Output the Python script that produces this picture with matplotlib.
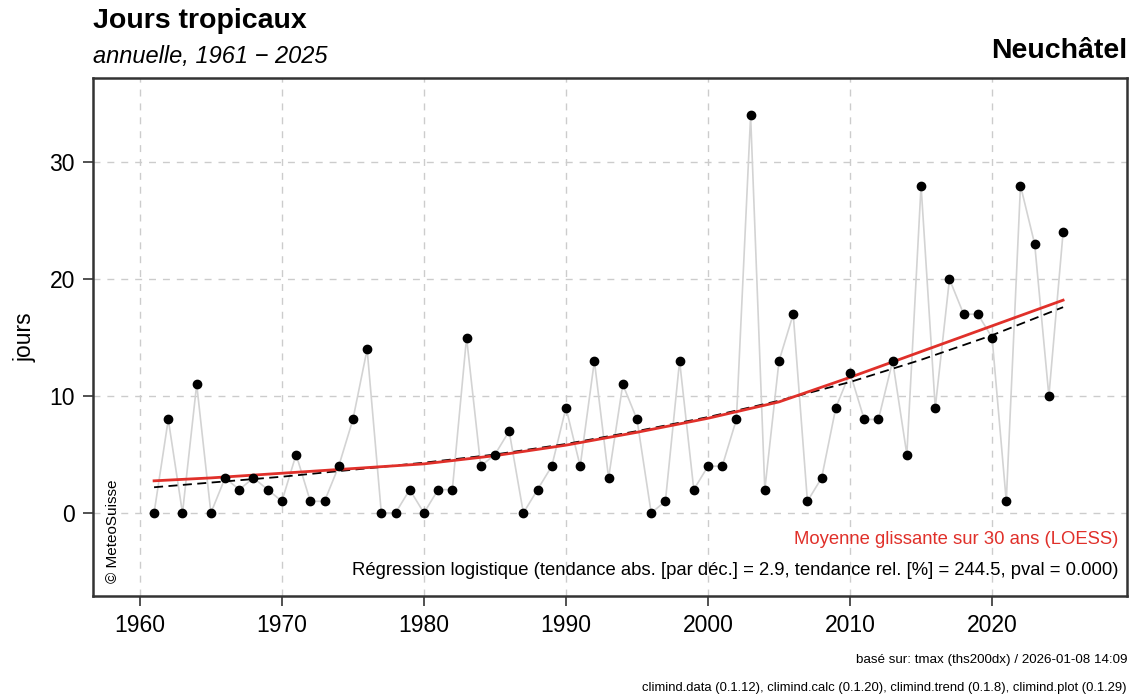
import matplotlib
matplotlib.use("Agg")
import matplotlib.pyplot as plt

plt.rcParams['font.family'] = ['Liberation Sans', 'DejaVu Sans']

# annual number of tropical days, Neuchâtel
years = list(range(1961, 2026))
days = [0, 8, 0, 11, 0, 3, 2, 3, 2, 1,
        5, 1, 1, 4, 8, 14, 0, 0, 2, 0,
        2, 2, 15, 4, 5, 7, 0, 2, 4, 9,
        4, 13, 3, 11, 8, 0, 1, 13, 2, 4,
        4, 8, 34, 2, 13, 17, 1, 3, 9, 12,
        8, 8, 13, 5, 28, 9, 20, 17, 17, 15,
        1, 28, 23, 10, 24]

# smooth curves
curve_years = [1961, 1965, 1970, 1975, 1980, 1985, 1990, 1995, 2000, 2005, 2010, 2015, 2020, 2025]
loess = [2.75, 3.0, 3.4, 3.8, 4.2, 4.9, 5.8, 6.9, 8.1, 9.5, 11.6, 13.8, 16.0, 18.2]
logreg = [2.2, 2.6, 3.1, 3.7, 4.3, 5.0, 5.9, 7.0, 8.2, 9.6, 11.2, 13.1, 15.2, 17.6]

x_ticks = [1960, 1970, 1980, 1990, 2000, 2010, 2020]
y_ticks = [0, 10, 20, 30]

RED = '#e0302a'

fig = plt.figure(figsize=(11.3, 6.97), dpi=100)
ax = fig.add_axes([93 / 1130, 1 - 596 / 697, (1127 - 93) / 1130, (596 - 78) / 697])

ax.set_xlim(1956.7, 2029.5)
ax.set_ylim(-7.1, 37.2)
ax.set_xticks(x_ticks)
ax.set_yticks(y_ticks)
ax.grid(True, linestyle=(0, (5, 5)), color='#cccccc', linewidth=1)
ax.set_axisbelow(True)

ax.plot(years, days, color='#d3d3d3', linewidth=1.2, zorder=2)
ax.plot(curve_years, logreg, color='black', linewidth=1.3, linestyle=(0, (5, 3)), zorder=3)
ax.plot(curve_years, loess, color=RED, linewidth=2, zorder=4)
ax.plot(years, days, 'o', color='black', markersize=6, zorder=5)

for side in ['left', 'bottom', 'top', 'right']:
    ax.spines[side].set_color('#333333')
    ax.spines[side].set_linewidth(1.8)

ax.tick_params(axis='both', labelsize=16.5, length=7, width=1.2, color='#333333', pad=6)
ax.set_ylabel("jours", fontsize=16.5, labelpad=9)

ax.text(0.992, 0.11, "Moyenne glissante sur 30 ans (LOESS)", transform=ax.transAxes,
        ha='right', va='center', color=RED, fontsize=13.3)
ax.text(0.992, 0.05, "Régression logistique (tendance abs. [par déc.] = 2.9, tendance rel. [%] = 244.5, pval = 0.000)",
        transform=ax.transAxes, ha='right', va='center', color='black', fontsize=13.3)
ax.text(0.019, 0.025, "© MeteoSuisse", transform=ax.transAxes, rotation=90,
        ha='center', va='bottom', fontsize=11)

fig.text(93 / 1130, 1 - 21 / 697, "Jours tropicaux", fontsize=20.5, fontweight='bold', ha='left', va='center')
fig.text(93 / 1130, 1 - 57 / 697, "annuelle, 1961 \u2212 2025", fontsize=17, style='italic', ha='left', va='center')
fig.text(1127 / 1130, 1 - 51 / 697, "Neuchâtel", fontsize=20.5, fontweight='bold', ha='right', va='center')

fig.text(1127 / 1130, 1 - 660 / 697, "basé sur: tmax (ths200dx) / 2026-01-08 14:09", fontsize=9.6, ha='right', va='center')
fig.text(1127 / 1130, 1 - 688 / 697, "climind.data (0.1.12), climind.calc (0.1.20), climind.trend (0.1.8), climind.plot (0.1.29)",
         fontsize=9.4, ha='right', va='center')

fig.savefig("out.png", dpi=100)
